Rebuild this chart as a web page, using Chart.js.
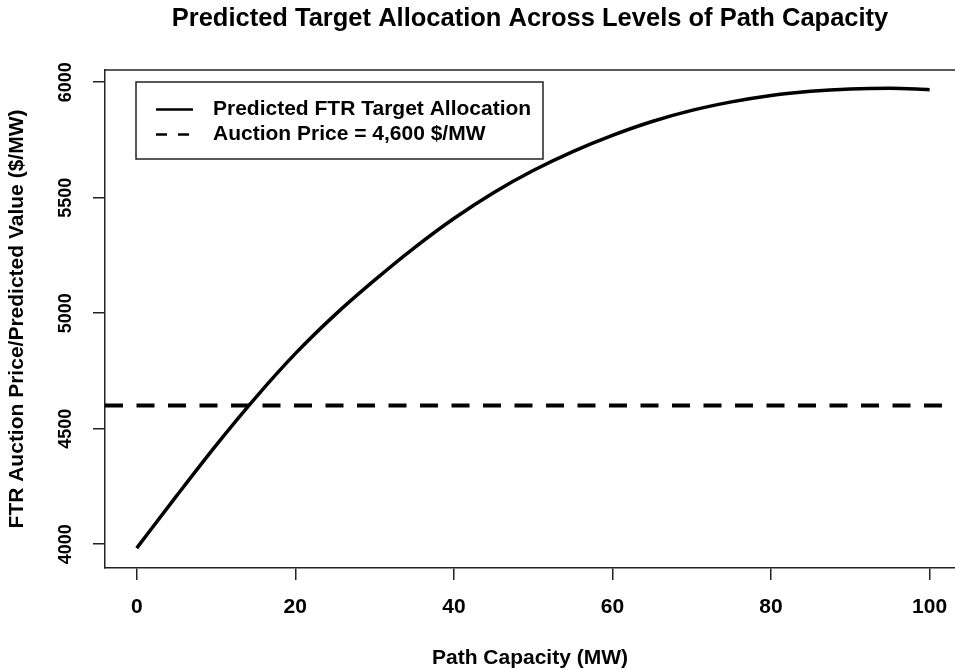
<!DOCTYPE html>
<html lang="en">
<head>
    <meta charset="UTF-8">
    <title>Predicted Target Allocation Across Levels of Path Capacity</title>
    <script src="https://cdn.jsdelivr.net/npm/chart.js@4.4.1/dist/chart.umd.min.js"></script>
    <style>
        * {
            margin: 0;
            padding: 0;
            box-sizing: border-box;
        }

        html, body {
            background: #ffffff;
            overflow: hidden;
        }

        .chart-wrap {
            position: relative;
            width: 955px;
            height: 670px;
        }
    </style>
</head>
<body>
    <div class="chart-wrap">
        <canvas id="allocChart"></canvas>
    </div>

    <script>
        // path capacity (MW) and predicted value
        const capacity = [0, 5, 10, 15, 20, 25, 30, 35, 40, 45, 50, 55, 60, 65, 70, 75, 80, 85, 90, 95, 100];
        const predicted = [3983, 4208, 4428, 4635, 4825, 4993, 5143, 5283, 5410, 5522, 5618, 5700, 5770, 5830, 5878, 5915, 5943, 5961, 5971, 5974, 5968];

        // horizontal auction price line, spans the whole plot
        const auctionX = [-4, 104];
        const auctionPrice = [4600, 4600];

        const xTicks = [0, 20, 40, 60, 80, 100];
        const yTicks = [4000, 4500, 5000, 5500, 6000];

        const FONT = "'Liberation Sans', Arial, sans-serif";
        const INK = '#000000';
        const FRAME = '#222222';

        // top edge of the plot box (left/bottom come from the axis borders)
        const boxPlugin = {
            id: 'plotBox',
            afterDraw(chart) {
                const { ctx, chartArea } = chart;
                ctx.save();
                ctx.strokeStyle = FRAME;
                ctx.lineWidth = 1.5;
                ctx.beginPath();
                ctx.moveTo(chartArea.left, chartArea.top);
                ctx.lineTo(chartArea.right, chartArea.top);
                ctx.stroke();
                ctx.restore();
            }
        };

        // boxed legend in the upper left of the plot
        const legendPlugin = {
            id: 'boxLegend',
            afterDraw(chart) {
                const { ctx, chartArea } = chart;
                const left = chartArea.left + 31;
                const top = chartArea.top + 12;
                ctx.save();
                ctx.fillStyle = '#ffffff';
                ctx.fillRect(left, top, 407, 77);
                ctx.strokeStyle = FRAME;
                ctx.lineWidth = 1.5;
                ctx.strokeRect(left, top, 407, 77);

                const rows = [
                    { ds: chart.data.datasets[0], y: top + 27.5, dash: [] },
                    { ds: chart.data.datasets[1], y: top + 52.5, dash: [11, 11] }
                ];
                rows.forEach(row => {
                    ctx.strokeStyle = INK;
                    ctx.lineWidth = 2.5;
                    ctx.setLineDash(row.dash);
                    ctx.beginPath();
                    ctx.moveTo(left + 20, row.y);
                    ctx.lineTo(left + 57, row.y);
                    ctx.stroke();
                    ctx.setLineDash([]);
                    ctx.fillStyle = INK;
                    ctx.font = 'bold 21px ' + FONT;
                    ctx.textAlign = 'left';
                    ctx.textBaseline = 'middle';
                    ctx.fillText(row.ds.label, left + 77, row.y);
                });
                ctx.restore();
            }
        };

        const ctx = document.getElementById('allocChart').getContext('2d');
        new Chart(ctx, {
            type: 'line',
            data: {
                datasets: [
                    {
                        label: 'Predicted FTR Target Allocation',
                        data: capacity.map((x, i) => ({ x: x, y: predicted[i] })),
                        borderColor: INK,
                        borderWidth: 3.5,
                        pointRadius: 0,
                        cubicInterpolationMode: 'monotone',
                        fill: false
                    },
                    {
                        label: 'Auction Price = 4,600 $/MW',
                        data: auctionX.map((x, i) => ({ x: x, y: auctionPrice[i] })),
                        borderColor: INK,
                        borderWidth: 4,
                        borderDash: [18, 13.5],
                        pointRadius: 0,
                        fill: false
                    }
                ]
            },
            options: {
                responsive: true,
                maintainAspectRatio: false,
                animation: false,
                layout: { padding: 0 },
                plugins: {
                    legend: { display: false },
                    tooltip: { enabled: false },
                    title: {
                        display: true,
                        text: 'Predicted Target Allocation Across Levels of Path Capacity',
                        color: INK,
                        fullSize: false,
                        font: { family: FONT, size: 25.5, weight: 'bold', lineHeight: 1.2 },
                        padding: { top: 3.4, bottom: 36 }
                    }
                },
                scales: {
                    x: {
                        type: 'linear',
                        min: -4,
                        max: 103.2,
                        afterBuildTicks: scale => { scale.ticks = xTicks.map(v => ({ value: v })); },
                        afterFit: scale => {
                            scale.height = 102;
                            scale.paddingLeft = 0;
                            scale.paddingRight = 0;
                        },
                        grid: {
                            drawOnChartArea: false,
                            drawTicks: true,
                            tickLength: 12,
                            color: FRAME,
                            lineWidth: 1.5
                        },
                        border: { display: true, color: FRAME, width: 1.5 },
                        ticks: {
                            color: INK,
                            padding: 14.4,
                            maxRotation: 0,
                            font: { family: FONT, size: 21, weight: 'bold' },
                            callback: v => String(v)
                        },
                        title: {
                            display: true,
                            text: 'Path Capacity (MW)',
                            color: INK,
                            font: { family: FONT, size: 21, weight: 'bold', lineHeight: 1.1 },
                            padding: { top: 0, bottom: 0 }
                        }
                    },
                    y: {
                        type: 'linear',
                        min: 3897,
                        max: 6053,
                        afterBuildTicks: scale => { scale.ticks = yTicks.map(v => ({ value: v })); },
                        afterFit: scale => {
                            scale.width = 105;
                            scale.paddingTop = 0;
                            scale.paddingBottom = 0;
                        },
                        grid: {
                            drawOnChartArea: false,
                            drawTicks: true,
                            tickLength: 12,
                            color: FRAME,
                            lineWidth: 1.5
                        },
                        border: { display: true, color: FRAME, width: 1.5 },
                        ticks: {
                            color: INK,
                            padding: 7,
                            minRotation: 90,
                            maxRotation: 90,
                            crossAlign: 'center',
                            font: { family: FONT, size: 18, weight: 'bold' },
                            callback: v => String(v)
                        },
                        title: {
                            display: true,
                            text: 'FTR Auction Price/Predicted Value ($/MW)',
                            color: INK,
                            font: { family: FONT, size: 21, weight: 'bold', lineHeight: 1.2 },
                            padding: { top: 4.4, bottom: 0 }
                        }
                    }
                }
            },
            plugins: [boxPlugin, legendPlugin]
        });
    </script>
</body>
</html>
